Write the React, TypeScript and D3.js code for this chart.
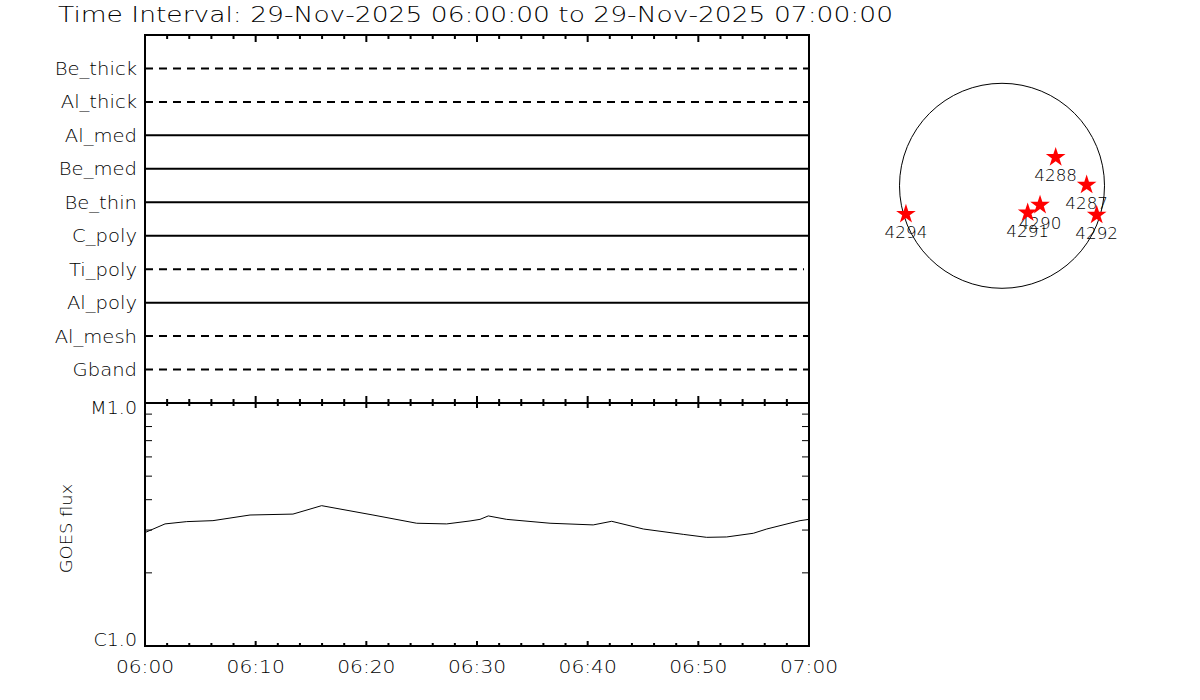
import React, { useEffect } from "react";
import * as d3 from "d3";

const titleText = "Time Interval: 29-Nov-2025 06:00:00 to 29-Nov-2025 07:00:00";

const filterNames = ["Be_thick", "Al_thick", "Al_med", "Be_med", "Be_thin", "C_poly", "Ti_poly", "Al_poly", "Al_mesh", "Gband"];
const filterDashed = [true, true, false, false, false, false, true, false, true, true];
const filterEndMin = [60, 60, 60, 60, 60, 60, 59.55, 60, 60, 60];

const majorTickMin = [0, 10, 20, 30, 40, 50, 60];
const majorTickLabels = ["06:00", "06:10", "06:20", "06:30", "06:40", "06:50", "07:00"];
const minorTickMin = d3.range(0, 61, 2);

const goesMin = [0, 1.81, 3.77, 6.14, 9.49, 13.37, 15.96, 20.6, 24.55, 27.26, 29.37, 30.27, 31.02, 32.68, 36.6, 40.5, 42.17, 45.03, 48.64, 50.75, 52.56, 54.97, 56.18, 59.19, 60];
const goesFlux = [2.93e-6, 3.18e-6, 3.25e-6, 3.28e-6, 3.46e-6, 3.49e-6, 3.78e-6, 3.46e-6, 3.2e-6, 3.18e-6, 3.27e-6, 3.32e-6, 3.43e-6, 3.32e-6, 3.2e-6, 3.15e-6, 3.26e-6, 3.03e-6, 2.88e-6, 2.8e-6, 2.81e-6, 2.91e-6, 3.03e-6, 3.28e-6, 3.32e-6];

const yTickValues = [1e-6, 1e-5];
const yTickLabels = ["C1.0", "M1.0"];
const yMinorValues = [2e-6, 3e-6, 4e-6, 5e-6, 6e-6, 7e-6, 8e-6, 9e-6];

const solarRadius = 970;
const regionIds = ["4294", "4288", "4287", "4292", "4290", "4291"];
const regionX = [-909, 508, 801, 896, 360, 243];
const regionY = [-268, 270, 8, -276, -182, -255];

const FONT = "'DejaVu Sans', Verdana, sans-serif";

function Label(props: { x: number; y: number; size: number; sx?: number; anchor?: string; rotate?: number; children: React.ReactNode }) {
  const { x, y, size, sx = 1.12, anchor = "start", rotate = 0 } = props;
  return (
    <text
      transform={`translate(${x},${y}) rotate(${rotate}) scale(${sx},1)`}
      fontSize={size}
      textAnchor={anchor}
      fill="#000"
      fontWeight={200}
    >
      {props.children}
    </text>
  );
}

export default function App() {
  useEffect(() => {
    document.body.style.margin = "0";
  }, []);

  const W = 1200, H = 700;
  const left = 145, right = 809;
  const topY = 35, midY = 403, botY = 646;

  const x = d3.scaleLinear().domain([0, 60]).range([left, right]);
  const rowY = d3.scaleLinear().domain([-1, filterNames.length]).range([topY, midY]);
  const y = d3.scaleLog().domain([1e-6, 1e-5]).range([botY, midY]);

  const line = d3.line<number>().x((_, i) => x(goesMin[i])).y((d) => y(d));

  const cx = 1002, cy = 185.8, r = 102.5;
  const sx = d3.scaleLinear().domain([-solarRadius, solarRadius]).range([cx - r, cx + r]);
  const sy = d3.scaleLinear().domain([-solarRadius, solarRadius]).range([cy + r, cy - r]);
  const star = d3.symbol().type(d3.symbolStar).size(120)();

  const tk = (xv: number, y0: number, len: number, key: string) => (
    <line key={key} x1={xv} x2={xv} y1={y0} y2={y0 + len} stroke="#000" strokeWidth={2} />
  );

  return (
    <svg width={W} height={H} style={{ display: "block", background: "#fff" }} fontFamily={FONT}>
      <rect width={W} height={H} fill="#fff" />
      <text x={58} y={22} fontSize={21} textLength={835} lengthAdjust="spacingAndGlyphs" fill="#000" fontWeight={200}>
        {titleText}
      </text>

      {/* top panel rows */}
      {filterNames.map((n, i) => (
        <g key={n}>
          <line
            x1={x(0)}
            x2={x(filterEndMin[i])}
            y1={rowY(i)}
            y2={rowY(i)}
            stroke="#000"
            strokeWidth={2}
            strokeDasharray={filterDashed[i] ? "8 6" : undefined}
          />
          <Label x={137} y={rowY(i) + 6.5} size={17.5} anchor="end">
            {n}
          </Label>
        </g>
      ))}

      {/* frames */}
      <rect x={left} y={topY} width={right - left} height={midY - topY} fill="none" stroke="#000" strokeWidth={2} />
      <rect x={left} y={midY} width={right - left} height={botY - midY} fill="none" stroke="#000" strokeWidth={2} />

      {/* top panel ticks */}
      {minorTickMin.map((m) => tk(x(m), topY, majorTickMin.includes(m) ? 7 : 4, "tt" + m))}
      {minorTickMin.map((m) => tk(x(m), midY, majorTickMin.includes(m) ? -7 : -4, "tb" + m))}
      {/* bottom panel x ticks */}
      {minorTickMin.map((m) => tk(x(m), midY, majorTickMin.includes(m) ? 5 : 3, "bt" + m))}
      {minorTickMin.map((m) => tk(x(m), botY, majorTickMin.includes(m) ? -5 : -3, "bb" + m))}

      {/* y ticks */}
      {yMinorValues.map((v) => (
        <g key={"ym" + v}>
          <line x1={left} x2={left + 7} y1={y(v)} y2={y(v)} stroke="#000" strokeWidth={1} />
          <line x1={right} x2={right - 7} y1={y(v)} y2={y(v)} stroke="#000" strokeWidth={1} />
        </g>
      ))}
      {yTickValues.map((v, i) => (
        <Label key={"yl" + v} x={137} y={y(v) + (i === 0 ? 0 : 11)} size={17} anchor="end">
          {yTickLabels[i]}
        </Label>
      ))}
      <Label x={72} y={(midY + botY) / 2 + 4} size={16} anchor="middle" rotate={-90}>
        GOES flux
      </Label>

      {/* x labels */}
      {majorTickMin.map((m, i) => (
        <Label key={"xl" + m} x={x(m)} y={673} size={18} anchor="middle">
          {majorTickLabels[i]}
        </Label>
      ))}

      {/* GOES curve */}
      <path d={line(goesFlux) || ""} fill="none" stroke="#000" strokeWidth={1} />

      {/* sun */}
      <circle cx={cx} cy={cy} r={r} fill="none" stroke="#000" strokeWidth={1} />
      {regionIds.map((id, i) => (
        <g key={id}>
          <path d={star || ""} transform={`translate(${sx(regionX[i])},${sy(regionY[i])})`} fill="#f00" />
          <Label x={sx(regionX[i])} y={sy(regionY[i]) + 24} size={15} anchor="middle">
            {id}
          </Label>
        </g>
      ))}
    </svg>
  );
}
